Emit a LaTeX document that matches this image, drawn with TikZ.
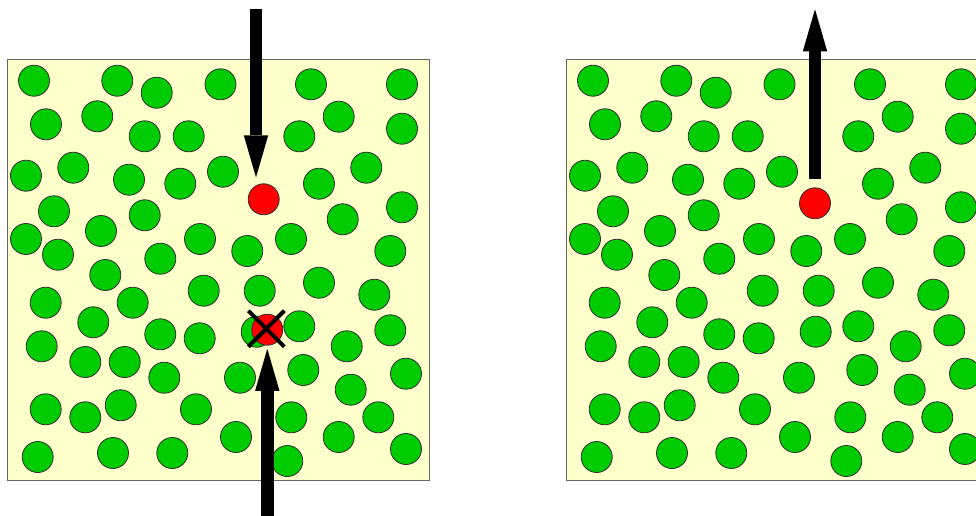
\documentclass[tikz,border=0pt]{standalone}
\usepackage{tikz}
\usetikzlibrary{arrows.meta,calc}
\definecolor{BoxCream}{HTML}{FFFFCC}
\definecolor{BoxEdge}{HTML}{666666}
\definecolor{BallGreen}{HTML}{00CC00}
\definecolor{BallRed}{HTML}{FF0000}
\tikzset{
  ball/.style={circle, draw=black!80, fill=BallGreen, line width=0.6pt, inner sep=0pt, minimum size=0.775cm},
  push/.style={line width=9pt, -{Triangle[width=0.61cm, length=1.05cm, line width=0pt]}},
  cross/.style={line width=2.8pt}
}

\begin{document}
\begin{tikzpicture}[x=0.025cm, y=-0.025cm]
\useasboundingbox (0,0) rectangle (976,515);
\clip (0,0) rectangle (976,515);

% Ball positions (same in both boxes)
\def\balls{34/80.7, 117.3/80.7, 156.7/92.7, 220.5/84.3, 311/84.3, 402/84.3,
  46/124.3, 97.3/116.3, 144.7/136.3, 188.7/136.3, 299.3/136.3, 338.7/116.7, 402/128.7,
  26/175.7, 73.3/167.7, 129/179.7, 180.3/183.7, 223/171.7, 319/183.7, 366.3/167.7,
  54/211.3, 144.7/215.3, 402/207.3, 342.7/219.3,
  26/239, 101/231, 200/239, 291/239, 58/254.7, 160.3/258.7, 247.3/251, 390.3/251,
  105.3/275, 319/282.7, 45.7/302.7, 132.7/302.7, 203.7/290.7, 259.7/290.7, 374.3/294.7,
  93.3/322.3, 41.7/346.3, 160.3/334.3, 199.7/338.3, 256.7/331.7, 299.3/326.3, 346.7/346.3, 390.3/330.3,
  85.3/362, 124.7/362, 164.3/377.7, 240/377.7, 303.3/370, 350.7/389.7, 406/373.7,
  45.7/409.3, 85.3/417.3, 120.7/405.3, 196/409.3, 291.3/417.3, 378.3/417.3,
  37.7/457, 113/453, 172.3/453, 236/437, 338.7/437, 406/449, 287.3/461}

% Boxes with green balls
\foreach \side/\dx in {l/0, r/559} {
  \draw[BoxEdge, fill=BoxCream, line width=1pt] (7.3+\dx,59.3) rectangle (429.3+\dx,480.7);
  \foreach \x/\y [count=\i] in \balls
    \node[ball] (\side\i) at (\x+\dx,\y) {};
}

% Red balls
\node[ball, fill=BallRed] (redA) at (263.7,199.3) {};
\node[ball, fill=BallRed] (redB) at (267.3,329.7) {};
\node[ball, fill=BallRed] (redC) at (815,203.3) {};

% Cross on the lower red ball
\draw[cross] ($(redB)+(-19,-19)$) -- ($(redB)+(17,17)$);
\draw[cross] ($(redB)+(17,-19)$) -- ($(redB)+(-19,17)$);

% Arrows
\coordinate (inTop) at (256,9.3);
\coordinate (inBottom) at (267.3,530);
\coordinate (outTop) at (815,9.3);
\draw[push, shorten >=0.15cm] (inTop) -- (inTop |- redA.north);
\draw[push, shorten >=0.08cm] (inBottom) -- (redB.south);
\draw[push, shorten <=0.22cm] (redC.north) -- (outTop);
\end{tikzpicture}
\end{document}
